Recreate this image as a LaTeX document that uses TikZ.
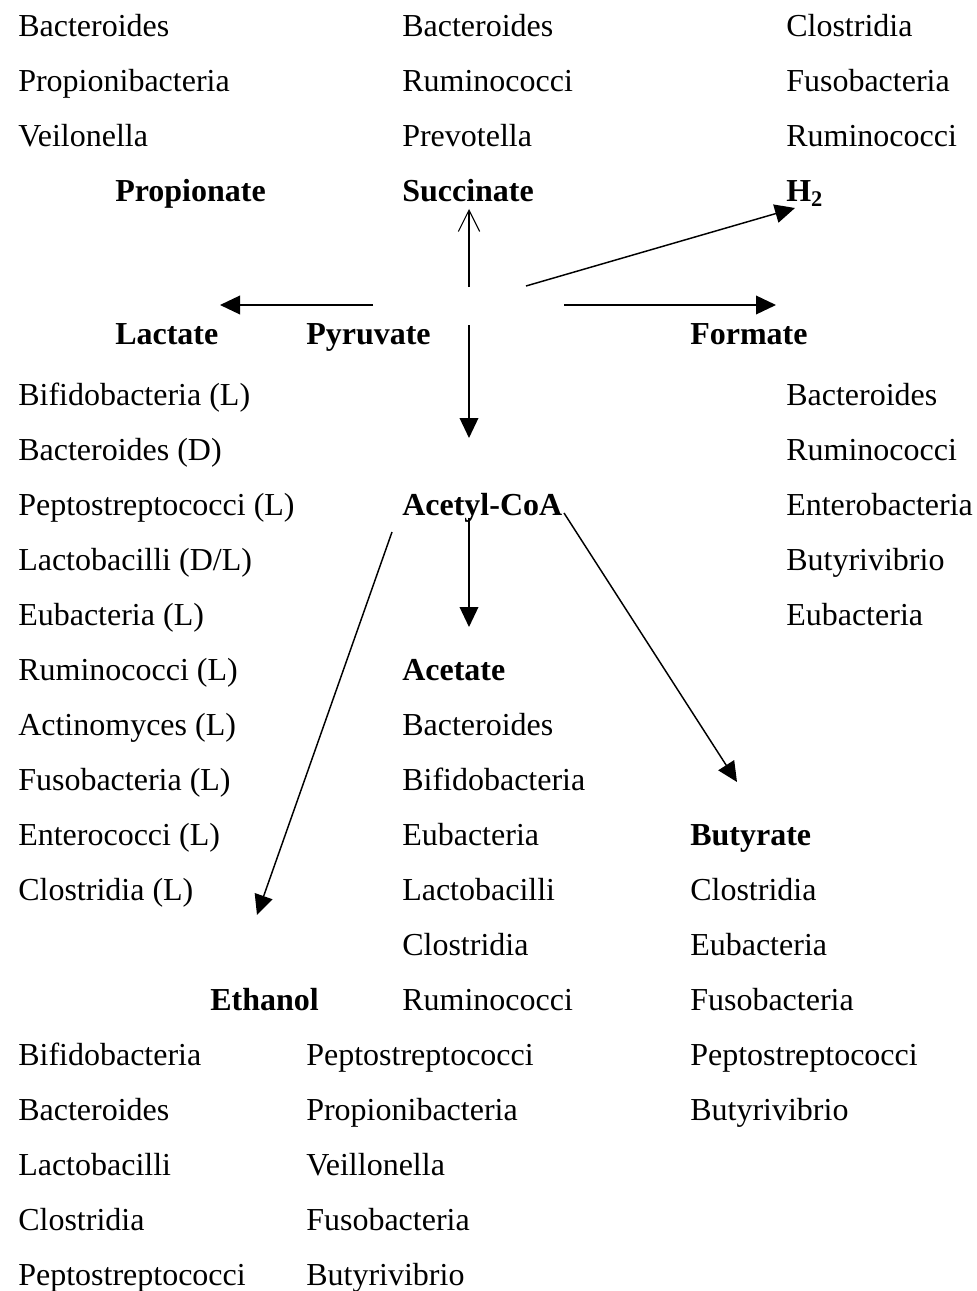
\documentclass[tikz,border=0pt]{standalone}
\usepackage{fontspec}
\setmainfont{Liberation Serif}
\usetikzlibrary{arrows.meta}

\begin{document}
\begin{tikzpicture}[x=0.75pt, y=-0.75pt, >={Triangle[length=15pt,width=14pt]},
                    every node/.style={inner sep=0pt, anchor=base west, font=\fontsize{24}{28}\selectfont},
                    acid/.style={font=\fontsize{24}{28}\selectfont\bfseries},
                    flow/.style={->, line width=1.1pt}]
\useasboundingbox (0,0) rectangle (976,1291);

% producers above
\foreach \bug [count=\i] in {Bacteroides, Propionibacteria, Veilonella}
  \node (propb\i) at (18, -18+55*\i) {\bug};
\foreach \bug [count=\i] in {Bacteroides, Ruminococci, Prevotella}
  \node (succb\i) at (402, -18+55*\i) {\bug};
\foreach \bug [count=\i] in {Clostridia, Fusobacteria, Ruminococci}
  \node (hydb\i) at (786, -18+55*\i) {\bug};

\node[acid] (prop) at (115,202) {Propionate};
\node[acid] (succ) at (402,202) {Succinate};
\node[acid] (hyd) at (786,202) {H\textsubscript{2}};

\node[acid] (lac) at (115,344) {Lactate};
\node[acid] (pyr) at (306,344) {Pyruvate};
\node[acid] (form) at (690,344) {Formate};

\foreach \bug [count=\i] in {Bifidobacteria (L), Bacteroides (D), Peptostreptococci (L),
    Lactobacilli (D/L), Eubacteria (L), Ruminococci (L), Actinomyces (L),
    Fusobacteria (L), Enterococci (L), Clostridia (L)}
  \node (lacb\i) at (18, 350+55*\i) {\bug};
\foreach \bug [count=\i] in {Bacteroides, Ruminococci, Enterobacteria, Butyrivibrio, Eubacteria}
  \node (formb\i) at (786, 350+55*\i) {\bug};

\node[acid] (acoa) at (402,515) {Acetyl-CoA};

\node[acid] (acet) at (402,680) {Acetate};
\foreach \bug [count=\i] in {Bacteroides, Bifidobacteria, Eubacteria, Lactobacilli, Clostridia, Ruminococci}
  \node (acetb\i) at (402, 680+55*\i) {\bug};

\node[acid] (but) at (690,845) {Butyrate};
\foreach \bug [count=\i] in {Clostridia, Eubacteria, Fusobacteria, Peptostreptococci, Butyrivibrio}
  \node (butb\i) at (690, 845+55*\i) {\bug};

\node[acid] (eth) at (210,1010) {Ethanol};
\foreach \bug [count=\i] in {Bifidobacteria, Bacteroides, Lactobacilli, Clostridia, Peptostreptococci}
  \node (etha\i) at (18, 1010+55*\i) {\bug};
\foreach \bug [count=\i] in {Peptostreptococci, Propionibacteria, Veillonella, Fusobacteria, Butyrivibrio}
  \node (ethb\i) at (306, 1010+55*\i) {\bug};

% arrow ends
\coordinate (pyr-n) at (469,287);
\coordinate (succ-s) at (469,209);
\coordinate (pyr-ne) at (526,286);
\coordinate (hyd-sw) at (795,208);
\coordinate (pyr-e) at (564,305);
\coordinate (form-n) at (776,305);
\coordinate (pyr-w) at (373,305);
\coordinate (lac-n) at (220,305);
\coordinate (pyr-s) at (469,325);
\coordinate (acoa-n) at (469,438);
\coordinate (acoa-s) at (469,518);
\coordinate (acet-n) at (469,627);
\coordinate (acoa-sw) at (392,532);
\coordinate (eth-n) at (257,915);
\coordinate (acoa-se) at (564,513);
\coordinate (but-n) at (737,782);

\draw[line width=1.1pt, -{Straight Barb[length=16pt,width=16pt,line width=0.8pt]}] (pyr-n) -- (succ-s);
\draw[flow] (pyr-ne) -- (hyd-sw);
\draw[flow] (pyr-e) -- (form-n);
\draw[flow] (pyr-w) -- (lac-n);
\draw[flow] (pyr-s) -- (acoa-n);
\draw[flow] (acoa-s) -- (acet-n);
\draw[flow] (acoa-sw) -- (eth-n);
\draw[flow] (acoa-se) -- (but-n);
\end{tikzpicture}
\end{document}
